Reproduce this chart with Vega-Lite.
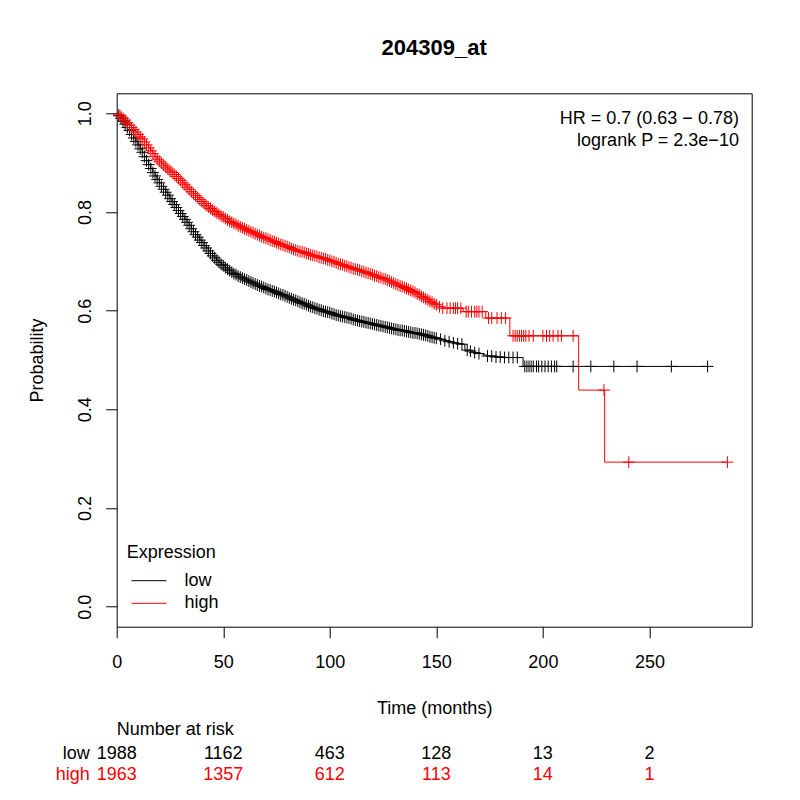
{
  "$schema": "https://vega.github.io/schema/vega-lite/v6.json",
  "autosize": "none",
  "padding": {"left": 116.7, "top": 93.3, "right": 683.3, "bottom": 706.7},
  "background": "white",
  "config": {
    "font": "Liberation Sans",
    "axis": {"grid": false, "labelColor": "black", "tickColor": "black", "titleColor": "black", "labelFontSize": 18, "titleFontSize": 18, "titleFontWeight": "normal", "labelFlush": false}
  },
  "spacing": 115.8,
  "bounds": "flush",
  "resolve": {"scale": {"x": "independent", "y": "independent", "color": "independent"}, "legend": {"color": "independent"}},
  "vconcat": [
    {
      "width": 635,
      "height": 533.4,
      "view": {"stroke": "black", "strokeWidth": 1},
      "title": {"text": "204309_at", "fontSize": 22, "fontWeight": "bold", "anchor": "middle", "frame": "group", "baseline": "alphabetic", "offset": 16, "color": "black"},
      "data": {"values": [
        {"g": "low", "t": 0, "s": 1.0, "c": 0},
        {"g": "low", "t": 1, "s": 0.995}, {"g": "low", "t": 2, "s": 0.990}, {"g": "low", "t": 3, "s": 0.984}, {"g": "low", "t": 4, "s": 0.978},
        {"g": "low", "t": 5, "s": 0.971}, {"g": "low", "t": 6, "s": 0.965}, {"g": "low", "t": 7, "s": 0.957}, {"g": "low", "t": 8, "s": 0.950},
        {"g": "low", "t": 9, "s": 0.943}, {"g": "low", "t": 10, "s": 0.936}, {"g": "low", "t": 11, "s": 0.928}, {"g": "low", "t": 12, "s": 0.921},
        {"g": "low", "t": 13, "s": 0.912}, {"g": "low", "t": 14, "s": 0.904}, {"g": "low", "t": 15, "s": 0.896}, {"g": "low", "t": 16, "s": 0.888},
        {"g": "low", "t": 17, "s": 0.880}, {"g": "low", "t": 18, "s": 0.873}, {"g": "low", "t": 19, "s": 0.866}, {"g": "low", "t": 20, "s": 0.859},
        {"g": "low", "t": 21, "s": 0.852}, {"g": "low", "t": 22, "s": 0.846}, {"g": "low", "t": 23, "s": 0.840}, {"g": "low", "t": 24, "s": 0.834},
        {"g": "low", "t": 25, "s": 0.827}, {"g": "low", "t": 26, "s": 0.821}, {"g": "low", "t": 27, "s": 0.815}, {"g": "low", "t": 28, "s": 0.809},
        {"g": "low", "t": 29, "s": 0.803}, {"g": "low", "t": 30, "s": 0.797}, {"g": "low", "t": 31, "s": 0.791}, {"g": "low", "t": 32, "s": 0.785},
        {"g": "low", "t": 33, "s": 0.779}, {"g": "low", "t": 34, "s": 0.773}, {"g": "low", "t": 35, "s": 0.766}, {"g": "low", "t": 36, "s": 0.760},
        {"g": "low", "t": 37, "s": 0.754}, {"g": "low", "t": 38, "s": 0.749}, {"g": "low", "t": 39, "s": 0.743}, {"g": "low", "t": 40, "s": 0.738},
        {"g": "low", "t": 41, "s": 0.732}, {"g": "low", "t": 42, "s": 0.727}, {"g": "low", "t": 43, "s": 0.721}, {"g": "low", "t": 44, "s": 0.716},
        {"g": "low", "t": 45, "s": 0.711}, {"g": "low", "t": 46, "s": 0.707}, {"g": "low", "t": 47, "s": 0.702}, {"g": "low", "t": 48, "s": 0.698},
        {"g": "low", "t": 49, "s": 0.694}, {"g": "low", "t": 50, "s": 0.691}, {"g": "low", "t": 51, "s": 0.687}, {"g": "low", "t": 52, "s": 0.684},
        {"g": "low", "t": 53, "s": 0.681}, {"g": "low", "t": 54, "s": 0.678}, {"g": "low", "t": 55, "s": 0.675}, {"g": "low", "t": 56, "s": 0.673},
        {"g": "low", "t": 57, "s": 0.670}, {"g": "low", "t": 58, "s": 0.668}, {"g": "low", "t": 59, "s": 0.666}, {"g": "low", "t": 60, "s": 0.664},
        {"g": "low", "t": 61, "s": 0.662}, {"g": "low", "t": 62, "s": 0.660}, {"g": "low", "t": 63, "s": 0.658}, {"g": "low", "t": 64, "s": 0.656},
        {"g": "low", "t": 65, "s": 0.654}, {"g": "low", "t": 66, "s": 0.652}, {"g": "low", "t": 67, "s": 0.650}, {"g": "low", "t": 68, "s": 0.649},
        {"g": "low", "t": 69, "s": 0.647}, {"g": "low", "t": 70, "s": 0.645}, {"g": "low", "t": 71, "s": 0.643}, {"g": "low", "t": 72, "s": 0.642},
        {"g": "low", "t": 73, "s": 0.640}, {"g": "low", "t": 74, "s": 0.639}, {"g": "low", "t": 75, "s": 0.637}, {"g": "low", "t": 76, "s": 0.635},
        {"g": "low", "t": 77, "s": 0.633}, {"g": "low", "t": 78, "s": 0.632}, {"g": "low", "t": 79, "s": 0.630}, {"g": "low", "t": 80, "s": 0.628},
        {"g": "low", "t": 81, "s": 0.626}, {"g": "low", "t": 82, "s": 0.624}, {"g": "low", "t": 83, "s": 0.622}, {"g": "low", "t": 84, "s": 0.621},
        {"g": "low", "t": 85, "s": 0.619}, {"g": "low", "t": 86, "s": 0.617}, {"g": "low", "t": 87, "s": 0.615}, {"g": "low", "t": 88, "s": 0.614},
        {"g": "low", "t": 89, "s": 0.612}, {"g": "low", "t": 90, "s": 0.610}, {"g": "low", "t": 91, "s": 0.608}, {"g": "low", "t": 92, "s": 0.607},
        {"g": "low", "t": 93, "s": 0.605}, {"g": "low", "t": 94, "s": 0.604}, {"g": "low", "t": 95, "s": 0.602}, {"g": "low", "t": 96, "s": 0.601},
        {"g": "low", "t": 97, "s": 0.599}, {"g": "low", "t": 98, "s": 0.598}, {"g": "low", "t": 99, "s": 0.597}, {"g": "low", "t": 100, "s": 0.596},
        {"g": "low", "t": 101, "s": 0.594}, {"g": "low", "t": 102, "s": 0.593}, {"g": "low", "t": 103, "s": 0.591}, {"g": "low", "t": 104, "s": 0.590},
        {"g": "low", "t": 105, "s": 0.589}, {"g": "low", "t": 106, "s": 0.588}, {"g": "low", "t": 107, "s": 0.587}, {"g": "low", "t": 108, "s": 0.586},
        {"g": "low", "t": 109, "s": 0.585}, {"g": "low", "t": 110, "s": 0.584}, {"g": "low", "t": 111, "s": 0.582}, {"g": "low", "t": 112, "s": 0.581},
        {"g": "low", "t": 113, "s": 0.580}, {"g": "low", "t": 114, "s": 0.579}, {"g": "low", "t": 115, "s": 0.578}, {"g": "low", "t": 116, "s": 0.577},
        {"g": "low", "t": 117, "s": 0.576}, {"g": "low", "t": 118, "s": 0.575}, {"g": "low", "t": 119, "s": 0.574}, {"g": "low", "t": 120, "s": 0.573},
        {"g": "low", "t": 121, "s": 0.572}, {"g": "low", "t": 122, "s": 0.571}, {"g": "low", "t": 123, "s": 0.570}, {"g": "low", "t": 124, "s": 0.569},
        {"g": "low", "t": 125, "s": 0.568}, {"g": "low", "t": 126, "s": 0.567}, {"g": "low", "t": 127, "s": 0.566}, {"g": "low", "t": 128, "s": 0.565},
        {"g": "low", "t": 129, "s": 0.564}, {"g": "low", "t": 130, "s": 0.563}, {"g": "low", "t": 131, "s": 0.562}, {"g": "low", "t": 132, "s": 0.561},
        {"g": "low", "t": 133, "s": 0.560}, {"g": "low", "t": 134, "s": 0.560}, {"g": "low", "t": 135, "s": 0.559}, {"g": "low", "t": 136, "s": 0.558},
        {"g": "low", "t": 137, "s": 0.557}, {"g": "low", "t": 138, "s": 0.556}, {"g": "low", "t": 139, "s": 0.555}, {"g": "low", "t": 140, "s": 0.555},
        {"g": "low", "t": 141, "s": 0.554}, {"g": "low", "t": 142, "s": 0.553}, {"g": "low", "t": 143, "s": 0.552}, {"g": "low", "t": 144, "s": 0.551},
        {"g": "low", "t": 145, "s": 0.550}, {"g": "low", "t": 146, "s": 0.549}, {"g": "low", "t": 147, "s": 0.547}, {"g": "low", "t": 148, "s": 0.546},
        {"g": "low", "t": 149, "s": 0.545}, {"g": "low", "t": 150, "s": 0.544},
        {"g": "low", "t": 152, "s": 0.542}, {"g": "low", "t": 154, "s": 0.539}, {"g": "low", "t": 156, "s": 0.537}, {"g": "low", "t": 158, "s": 0.535},
        {"g": "low", "t": 160, "s": 0.533}, {"g": "low", "t": 162, "s": 0.532},
        {"g": "low", "t": 163.4, "s": 0.520, "c": 0},
        {"g": "low", "t": 164.5, "s": 0.520}, {"g": "low", "t": 166, "s": 0.518}, {"g": "low", "t": 168, "s": 0.515}, {"g": "low", "t": 170, "s": 0.513},
        {"g": "low", "t": 172, "s": 0.510, "c": 0},
        {"g": "low", "t": 174, "s": 0.508}, {"g": "low", "t": 176, "s": 0.508}, {"g": "low", "t": 178, "s": 0.506}, {"g": "low", "t": 180, "s": 0.506},
        {"g": "low", "t": 182, "s": 0.505}, {"g": "low", "t": 184, "s": 0.505}, {"g": "low", "t": 186, "s": 0.505}, {"g": "low", "t": 188, "s": 0.505},
        {"g": "low", "t": 190.7, "s": 0.487, "c": 0},
        {"g": "low", "t": 191.5, "s": 0.487}, {"g": "low", "t": 192.5, "s": 0.487}, {"g": "low", "t": 193.5, "s": 0.487}, {"g": "low", "t": 194.5, "s": 0.487},
        {"g": "low", "t": 195.5, "s": 0.487}, {"g": "low", "t": 197, "s": 0.487}, {"g": "low", "t": 198, "s": 0.487}, {"g": "low", "t": 199.5, "s": 0.487},
        {"g": "low", "t": 201, "s": 0.487}, {"g": "low", "t": 202.5, "s": 0.487}, {"g": "low", "t": 204, "s": 0.487}, {"g": "low", "t": 205.5, "s": 0.487},
        {"g": "low", "t": 206.5, "s": 0.487}, {"g": "low", "t": 214.2, "s": 0.487}, {"g": "low", "t": 222.5, "s": 0.487}, {"g": "low", "t": 233.3, "s": 0.487},
        {"g": "low", "t": 244.2, "s": 0.487}, {"g": "low", "t": 260.3, "s": 0.487}, {"g": "low", "t": 277.3, "s": 0.487},
        {"g": "high", "t": 0, "s": 1.0, "c": 0},
        {"g": "high", "t": 1, "s": 0.997}, {"g": "high", "t": 2, "s": 0.994}, {"g": "high", "t": 3, "s": 0.990}, {"g": "high", "t": 4, "s": 0.986},
        {"g": "high", "t": 5, "s": 0.981}, {"g": "high", "t": 6, "s": 0.976}, {"g": "high", "t": 7, "s": 0.971}, {"g": "high", "t": 8, "s": 0.967},
        {"g": "high", "t": 9, "s": 0.962}, {"g": "high", "t": 10, "s": 0.957}, {"g": "high", "t": 11, "s": 0.952}, {"g": "high", "t": 12, "s": 0.948},
        {"g": "high", "t": 13, "s": 0.942}, {"g": "high", "t": 14, "s": 0.936}, {"g": "high", "t": 15, "s": 0.930}, {"g": "high", "t": 16, "s": 0.924},
        {"g": "high", "t": 17, "s": 0.918}, {"g": "high", "t": 18, "s": 0.912}, {"g": "high", "t": 19, "s": 0.907}, {"g": "high", "t": 20, "s": 0.903},
        {"g": "high", "t": 21, "s": 0.899}, {"g": "high", "t": 22, "s": 0.895}, {"g": "high", "t": 23, "s": 0.891}, {"g": "high", "t": 24, "s": 0.887},
        {"g": "high", "t": 25, "s": 0.883}, {"g": "high", "t": 26, "s": 0.880}, {"g": "high", "t": 27, "s": 0.876}, {"g": "high", "t": 28, "s": 0.872},
        {"g": "high", "t": 29, "s": 0.868}, {"g": "high", "t": 30, "s": 0.864}, {"g": "high", "t": 31, "s": 0.859}, {"g": "high", "t": 32, "s": 0.855},
        {"g": "high", "t": 33, "s": 0.850}, {"g": "high", "t": 34, "s": 0.846}, {"g": "high", "t": 35, "s": 0.841}, {"g": "high", "t": 36, "s": 0.837},
        {"g": "high", "t": 37, "s": 0.833}, {"g": "high", "t": 38, "s": 0.829}, {"g": "high", "t": 39, "s": 0.825}, {"g": "high", "t": 40, "s": 0.821},
        {"g": "high", "t": 41, "s": 0.817}, {"g": "high", "t": 42, "s": 0.813}, {"g": "high", "t": 43, "s": 0.810}, {"g": "high", "t": 44, "s": 0.807},
        {"g": "high", "t": 45, "s": 0.804}, {"g": "high", "t": 46, "s": 0.801}, {"g": "high", "t": 47, "s": 0.798}, {"g": "high", "t": 48, "s": 0.795},
        {"g": "high", "t": 49, "s": 0.792}, {"g": "high", "t": 50, "s": 0.790}, {"g": "high", "t": 51, "s": 0.787}, {"g": "high", "t": 52, "s": 0.784},
        {"g": "high", "t": 53, "s": 0.781}, {"g": "high", "t": 54, "s": 0.779}, {"g": "high", "t": 55, "s": 0.777}, {"g": "high", "t": 56, "s": 0.775},
        {"g": "high", "t": 57, "s": 0.772}, {"g": "high", "t": 58, "s": 0.770}, {"g": "high", "t": 59, "s": 0.768}, {"g": "high", "t": 60, "s": 0.766},
        {"g": "high", "t": 61, "s": 0.764}, {"g": "high", "t": 62, "s": 0.762}, {"g": "high", "t": 63, "s": 0.760}, {"g": "high", "t": 64, "s": 0.758},
        {"g": "high", "t": 65, "s": 0.756}, {"g": "high", "t": 66, "s": 0.754}, {"g": "high", "t": 67, "s": 0.752}, {"g": "high", "t": 68, "s": 0.750},
        {"g": "high", "t": 69, "s": 0.748}, {"g": "high", "t": 70, "s": 0.747}, {"g": "high", "t": 71, "s": 0.745}, {"g": "high", "t": 72, "s": 0.743},
        {"g": "high", "t": 73, "s": 0.741}, {"g": "high", "t": 74, "s": 0.740}, {"g": "high", "t": 75, "s": 0.738}, {"g": "high", "t": 76, "s": 0.736},
        {"g": "high", "t": 77, "s": 0.734}, {"g": "high", "t": 78, "s": 0.733}, {"g": "high", "t": 79, "s": 0.731}, {"g": "high", "t": 80, "s": 0.730},
        {"g": "high", "t": 81, "s": 0.728}, {"g": "high", "t": 82, "s": 0.726}, {"g": "high", "t": 83, "s": 0.724}, {"g": "high", "t": 84, "s": 0.723},
        {"g": "high", "t": 85, "s": 0.721}, {"g": "high", "t": 86, "s": 0.720}, {"g": "high", "t": 87, "s": 0.719}, {"g": "high", "t": 88, "s": 0.718},
        {"g": "high", "t": 89, "s": 0.716}, {"g": "high", "t": 90, "s": 0.715}, {"g": "high", "t": 91, "s": 0.713}, {"g": "high", "t": 92, "s": 0.712},
        {"g": "high", "t": 93, "s": 0.711}, {"g": "high", "t": 94, "s": 0.710}, {"g": "high", "t": 95, "s": 0.708}, {"g": "high", "t": 96, "s": 0.707},
        {"g": "high", "t": 97, "s": 0.706}, {"g": "high", "t": 98, "s": 0.705}, {"g": "high", "t": 99, "s": 0.703}, {"g": "high", "t": 100, "s": 0.702},
        {"g": "high", "t": 101, "s": 0.700}, {"g": "high", "t": 102, "s": 0.699}, {"g": "high", "t": 103, "s": 0.697}, {"g": "high", "t": 104, "s": 0.695},
        {"g": "high", "t": 105, "s": 0.694}, {"g": "high", "t": 106, "s": 0.693}, {"g": "high", "t": 107, "s": 0.691}, {"g": "high", "t": 108, "s": 0.690},
        {"g": "high", "t": 109, "s": 0.688}, {"g": "high", "t": 110, "s": 0.687}, {"g": "high", "t": 111, "s": 0.685}, {"g": "high", "t": 112, "s": 0.684},
        {"g": "high", "t": 113, "s": 0.683}, {"g": "high", "t": 114, "s": 0.682}, {"g": "high", "t": 115, "s": 0.680}, {"g": "high", "t": 116, "s": 0.679},
        {"g": "high", "t": 117, "s": 0.677}, {"g": "high", "t": 118, "s": 0.676}, {"g": "high", "t": 119, "s": 0.674}, {"g": "high", "t": 120, "s": 0.673},
        {"g": "high", "t": 121, "s": 0.671}, {"g": "high", "t": 122, "s": 0.670}, {"g": "high", "t": 123, "s": 0.668}, {"g": "high", "t": 124, "s": 0.667},
        {"g": "high", "t": 125, "s": 0.665}, {"g": "high", "t": 126, "s": 0.664}, {"g": "high", "t": 127, "s": 0.662}, {"g": "high", "t": 128, "s": 0.660},
        {"g": "high", "t": 129, "s": 0.658}, {"g": "high", "t": 130, "s": 0.656}, {"g": "high", "t": 131, "s": 0.654}, {"g": "high", "t": 132, "s": 0.652},
        {"g": "high", "t": 133, "s": 0.650}, {"g": "high", "t": 134, "s": 0.649}, {"g": "high", "t": 135, "s": 0.647}, {"g": "high", "t": 136, "s": 0.645},
        {"g": "high", "t": 137, "s": 0.643}, {"g": "high", "t": 138, "s": 0.641}, {"g": "high", "t": 139, "s": 0.639}, {"g": "high", "t": 140, "s": 0.637},
        {"g": "high", "t": 141, "s": 0.634}, {"g": "high", "t": 142, "s": 0.632}, {"g": "high", "t": 143, "s": 0.629}, {"g": "high", "t": 144, "s": 0.627},
        {"g": "high", "t": 145, "s": 0.624}, {"g": "high", "t": 146, "s": 0.622}, {"g": "high", "t": 147, "s": 0.619}, {"g": "high", "t": 148, "s": 0.617},
        {"g": "high", "t": 149, "s": 0.614}, {"g": "high", "t": 150, "s": 0.612},
        {"g": "high", "t": 151.5, "s": 0.608}, {"g": "high", "t": 153, "s": 0.605}, {"g": "high", "t": 155, "s": 0.605}, {"g": "high", "t": 156.5, "s": 0.605},
        {"g": "high", "t": 158, "s": 0.605}, {"g": "high", "t": 159, "s": 0.605}, {"g": "high", "t": 160, "s": 0.605}, {"g": "high", "t": 161.5, "s": 0.605},
        {"g": "high", "t": 162.6, "s": 0.598, "c": 0},
        {"g": "high", "t": 164, "s": 0.598}, {"g": "high", "t": 165, "s": 0.598}, {"g": "high", "t": 166.5, "s": 0.598}, {"g": "high", "t": 168, "s": 0.598},
        {"g": "high", "t": 169, "s": 0.598}, {"g": "high", "t": 170, "s": 0.598}, {"g": "high", "t": 171.5, "s": 0.598},
        {"g": "high", "t": 173.2, "s": 0.585, "c": 0},
        {"g": "high", "t": 174.5, "s": 0.585}, {"g": "high", "t": 176, "s": 0.585}, {"g": "high", "t": 178.5, "s": 0.585}, {"g": "high", "t": 180.5, "s": 0.585},
        {"g": "high", "t": 182.5, "s": 0.585},
        {"g": "high", "t": 184.5, "s": 0.549, "c": 0},
        {"g": "high", "t": 186, "s": 0.549}, {"g": "high", "t": 187, "s": 0.549}, {"g": "high", "t": 188, "s": 0.549}, {"g": "high", "t": 189, "s": 0.549},
        {"g": "high", "t": 190, "s": 0.549}, {"g": "high", "t": 191, "s": 0.549}, {"g": "high", "t": 192, "s": 0.549}, {"g": "high", "t": 193.5, "s": 0.549},
        {"g": "high", "t": 195.5, "s": 0.549}, {"g": "high", "t": 200, "s": 0.549}, {"g": "high", "t": 201.7, "s": 0.549}, {"g": "high", "t": 203.2, "s": 0.549},
        {"g": "high", "t": 204.8, "s": 0.549}, {"g": "high", "t": 207.1, "s": 0.549}, {"g": "high", "t": 208.7, "s": 0.549}, {"g": "high", "t": 214.2, "s": 0.549},
        {"g": "high", "t": 216.8, "s": 0.439, "c": 0},
        {"g": "high", "t": 228.7, "s": 0.439},
        {"g": "high", "t": 229, "s": 0.293, "c": 0},
        {"g": "high", "t": 240.3, "s": 0.293}, {"g": "high", "t": 286.6, "s": 0.293}
      ]},
      "layer": [
        {
          "mark": {"type": "line", "interpolate": "step-after", "strokeWidth": 1},
          "encoding": {
            "x": {
              "field": "t", "type": "quantitative",
              "scale": {"domain": [0, 298], "nice": false, "zero": false},
              "axis": {"values": [0, 50, 100, 150, 200, 250], "tickSize": 11, "domain": false, "labelPadding": 16,
                       "title": "Time (months)", "titleX": 317.5, "titleY": 86.3, "titleBaseline": "alphabetic", "titleAlign": "center"}
            },
            "y": {
              "field": "s", "type": "quantitative",
              "scale": {"domain": [-0.0405, 1.0405], "nice": false, "zero": false},
              "axis": {"values": [0, 0.2, 0.4, 0.6, 0.8, 1], "format": ".1f", "tickSize": 11, "domain": false,
                       "labelAngle": 270, "labelAlign": "center", "labelBaseline": "alphabetic", "labelPadding": 15.7,
                       "title": "Probability", "titleAngle": 270, "titleX": -74, "titleY": 266.7, "titleBaseline": "alphabetic", "titleAlign": "center"}
            },
            "color": {
              "field": "g", "type": "nominal",
              "scale": {"domain": ["low", "high"], "range": ["black", "red"]},
              "legend": {"orient": "none", "legendX": 10, "legendY": 450.5, "padding": 0,
                         "title": "Expression", "titleFontSize": 18, "titleFontWeight": "normal", "titleColor": "black", "titleBaseline": "top", "titlePadding": 9.9,
                         "labelFontSize": 18, "labelColor": "black", "symbolType": "M-3,0L3,0", "symbolSize": 136, "symbolStrokeWidth": 1,
                         "symbolOffset": 13.3, "labelOffset": 26.4, "rowPadding": 4.6}
            }
          }
        },
        {
          "transform": [{"filter": "datum.c !== 0"}],
          "mark": {"type": "point", "shape": "M-1,0L1,0M0,-1L0,1", "filled": false, "size": 140, "strokeWidth": 1, "opacity": 1},
          "encoding": {
            "x": {"field": "t", "type": "quantitative"},
            "y": {"field": "s", "type": "quantitative"},
            "color": {"field": "g", "type": "nominal"}
          }
        },
        {
          "data": {"values": [{}]},
          "mark": {"type": "text", "align": "right", "baseline": "alphabetic", "fontSize": 18, "lineHeight": 21.6, "color": "black",
                   "text": ["HR = 0.7 (0.63 − 0.78)", "logrank P = 2.3e−10"]},
          "encoding": {"x": {"datum": 292}, "y": {"datum": 0.9773}}
        }
      ]
    },
    {
      "width": 635,
      "height": 42,
      "view": {"stroke": null},
      "title": {"text": "Number at risk", "anchor": "start", "frame": "group", "fontSize": 18, "fontWeight": "normal", "baseline": "alphabetic", "offset": -10.3, "color": "black"},
      "data": {"values": [
        {"g": "low", "t": 0, "n": 1988}, {"g": "low", "t": 50, "n": 1162}, {"g": "low", "t": 100, "n": 463},
        {"g": "low", "t": 150, "n": 128}, {"g": "low", "t": 200, "n": 13}, {"g": "low", "t": 250, "n": 2},
        {"g": "high", "t": 0, "n": 1963}, {"g": "high", "t": 50, "n": 1357}, {"g": "high", "t": 100, "n": 612},
        {"g": "high", "t": 150, "n": 113}, {"g": "high", "t": 200, "n": 14}, {"g": "high", "t": 250, "n": 1}
      ]},
      "mark": {"type": "text", "fontSize": 18, "align": "center", "baseline": "middle"},
      "encoding": {
        "x": {"field": "t", "type": "quantitative", "scale": {"domain": [0, 298], "nice": false, "zero": false}, "axis": null},
        "y": {
          "field": "g", "type": "nominal",
          "scale": {"type": "point", "domain": ["low", "high"], "padding": 0.5},
          "axis": {"title": null, "domain": false, "ticks": false, "tickSize": 0, "labelPadding": 27.4, "labelAlign": "right",
                   "labelColor": {"condition": {"test": "datum.value === 'high'", "value": "red"}, "value": "black"}}
        },
        "text": {"field": "n", "type": "quantitative", "format": "d"},
        "color": {"field": "g", "type": "nominal", "scale": {"domain": ["low", "high"], "range": ["black", "red"]}, "legend": null}
      }
    }
  ]
}
